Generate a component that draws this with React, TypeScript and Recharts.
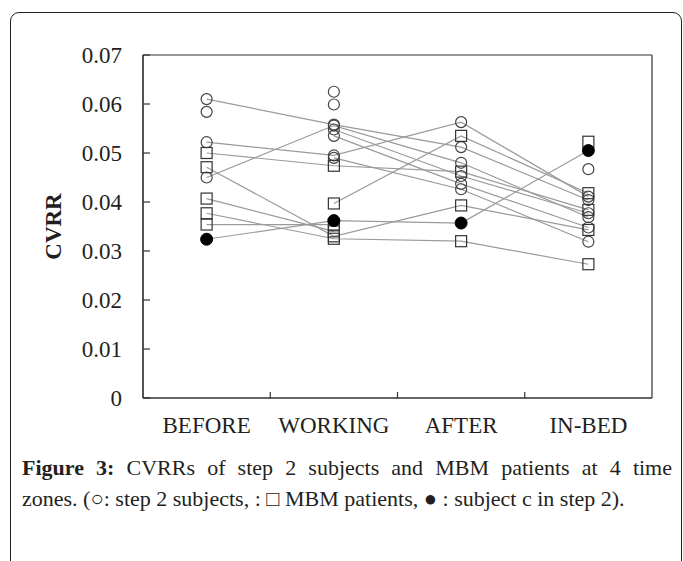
import React from 'react';
import { LineChart, Line, XAxis, YAxis, CartesianGrid } from 'recharts';

// ---- data ----
const zones = ['BEFORE', 'WORKING', 'AFTER', 'IN-BED'];
const yTicks = [0, 0.01, 0.02, 0.03, 0.04, 0.05, 0.06, 0.07];

// step 2 subjects (open circles)
const s1 = [0.061, 0.0558, 0.0512, 0.0404];
const s2 = [0.045, 0.0556, 0.048, 0.0369];
const s3 = [0.0522, 0.0495, 0.0563, 0.0411];
const s4 = [null, 0.0548, 0.0453, 0.0377];
const s5 = [null, 0.0535, 0.0437, 0.0348];
const s6 = [null, 0.049, 0.0426, 0.0319];
const s7 = [0.0584, null, null, null];
const s8 = [null, 0.0625, null, null];
const s9 = [null, 0.0599, null, null];
const s10 = [null, null, null, 0.0467];

// MBM patients (open squares)
const m1 = [0.05, 0.0474, 0.0462, 0.0384];
const m2 = [null, 0.0397, 0.0535, 0.0418];
const m3 = [0.0471, 0.033, 0.0393, 0.0343];
const m4 = [0.0407, 0.034, null, null];
const m5 = [0.0354, 0.0354, null, null];
const m6 = [0.0377, 0.0325, 0.032, 0.0273];
const m7 = [null, null, null, 0.0523];

// subject c in step 2 (filled circle)
const c1 = [0.0324, 0.0362, 0.0357, 0.0505];

type Shape = 'circle' | 'square' | 'filled';
const series: { key: string; values: (number | null)[]; shape: Shape }[] = [
  { key: 's1', values: s1, shape: 'circle' },
  { key: 's2', values: s2, shape: 'circle' },
  { key: 's3', values: s3, shape: 'circle' },
  { key: 's4', values: s4, shape: 'circle' },
  { key: 's5', values: s5, shape: 'circle' },
  { key: 's6', values: s6, shape: 'circle' },
  { key: 's7', values: s7, shape: 'circle' },
  { key: 's8', values: s8, shape: 'circle' },
  { key: 's9', values: s9, shape: 'circle' },
  { key: 's10', values: s10, shape: 'circle' },
  { key: 'm1', values: m1, shape: 'square' },
  { key: 'm2', values: m2, shape: 'square' },
  { key: 'm3', values: m3, shape: 'square' },
  { key: 'm4', values: m4, shape: 'square' },
  { key: 'm5', values: m5, shape: 'square' },
  { key: 'm6', values: m6, shape: 'square' },
  { key: 'm7', values: m7, shape: 'square' },
  { key: 'c1', values: c1, shape: 'filled' },
];

const data = zones.map((zone, i) => {
  const row: Record<string, any> = { zone };
  series.forEach((s) => {
    row[s.key] = s.values[i];
  });
  return row;
});

const FONT = '"Liberation Serif", "Times New Roman", serif';
const INK = '#231f20';

const CHART_W = 683;
const AXIS_W = 143;
const RIGHT_M = 31;
// half of one zone's band: categories sit at the middle of 4 equal bands
const HALF_BAND = (CHART_W - AXIS_W - RIGHT_M) / 8;

const makeDot = (shape: Shape, key: string) => (props: any) => {
  const { cx, cy, value, index } = props;
  const k = `${key}-${index}`;
  if (value == null || cx == null || cy == null || isNaN(cy)) return <g key={k} />;
  if (shape === 'square') {
    return (
      <rect key={k} x={cx - 5.5} y={cy - 5.5} width={11} height={11} fill="none" stroke="#333" strokeWidth={1.2} />
    );
  }
  if (shape === 'filled') {
    return <circle key={k} cx={cx} cy={cy} r={6} fill="#000" stroke="#000" strokeWidth={1} />;
  }
  return <circle key={k} cx={cx} cy={cy} r={5.5} fill="none" stroke="#444" strokeWidth={1.2} />;
};

const YTick = (props: any) => {
  const { x, y, payload } = props;
  const v = payload.value;
  const label = v === 0 ? '0' : Number(v).toFixed(2);
  return (
    <g>
      <line x1={x} x2={x + 7} y1={y} y2={y} stroke="#333" strokeWidth={1.2} />
      <text x={x - 21} y={y + 8} textAnchor="end" fontFamily={FONT} fontSize={23} fill={INK}>
        {label}
      </text>
    </g>
  );
};

const XTick = (props: any) => {
  const { x, y, payload, index } = props;
  return (
    <g>
      {index < zones.length - 1 ? (
        <line x1={x + HALF_BAND} x2={x + HALF_BAND} y1={y} y2={y - 6} stroke="#333" strokeWidth={1.2} />
      ) : null}
      <text x={x} y={y + 35} textAnchor="middle" fontFamily={FONT} fontSize={23} fill={INK}>
        {payload.value}
      </text>
    </g>
  );
};

const YLabel = (props: any) => {
  const vb = props.viewBox || { x: 0, y: 55, width: 143, height: 343 };
  const cx = vb.x + 53;
  const cy = vb.y + vb.height / 2;
  return (
    <text
      x={cx}
      y={cy}
      transform={`rotate(-90 ${cx} ${cy})`}
      textAnchor="middle"
      dominantBaseline="central"
      fontFamily={FONT}
      fontSize={23}
      fontWeight="bold"
      fill={INK}
    >
      CVRR
    </text>
  );
};

export default function App() {
  return (
    <div
      style={{
        position: 'absolute',
        left: 0,
        top: 0,
        width: 683,
        height: 561,
        overflow: 'hidden',
        background: '#fff',
      }}
    >
      <div
        style={{
          position: 'absolute',
          left: 10,
          top: 12,
          width: 670,
          height: 640,
          border: `1px solid ${INK}`,
          borderRadius: 9,
        }}
      />
      <div style={{ position: 'absolute', left: 0, top: 0 }}>
        <LineChart width={CHART_W} height={450} data={data} margin={{ top: 55, right: RIGHT_M, bottom: 12, left: 0 }}>
          <CartesianGrid
            stroke="#333"
            strokeWidth={1.2}
            horizontalCoordinatesGenerator={({ offset }: any) => [offset.top, offset.top + offset.height]}
            verticalCoordinatesGenerator={({ offset }: any) => [offset.left, offset.left + offset.width]}
          />
          <XAxis
            dataKey="zone"
            height={40}
            tickSize={0}
            tickMargin={0}
            tickLine={false}
            padding={{ left: HALF_BAND, right: HALF_BAND }}
            axisLine={{ stroke: '#333', strokeWidth: 1.2 }}
            tick={<XTick />}
            interval={0}
          />
          <YAxis
            width={AXIS_W}
            domain={[0, 0.07]}
            ticks={yTicks}
            type="number"
            tickSize={0}
            tickMargin={0}
            tickLine={false}
            axisLine={{ stroke: '#333', strokeWidth: 1.2 }}
            tick={<YTick />}
            interval={0}
            label={<YLabel />}
            allowDataOverflow
          />
          {series.map((s) => (
            <Line
              key={s.key}
              dataKey={s.key}
              type="linear"
              stroke="#9a9a9a"
              strokeWidth={1.2}
              dot={makeDot(s.shape, s.key)}
              activeDot={false}
              isAnimationActive={false}
              connectNulls={false}
            />
          ))}
        </LineChart>
      </div>
      <div
        style={{
          position: 'absolute',
          left: 22,
          top: 452,
          width: 650,
          fontFamily: FONT,
          fontSize: 22,
          lineHeight: '31px',
          color: INK,
        }}
      >
        <div style={{ textAlign: 'justify', textAlignLast: 'justify', whiteSpace: 'nowrap' as any }}>
          <b>Figure 3:</b> CVRRs of step 2 subjects and MBM patients at 4 time
        </div>
        <div>zones. (○: step 2 subjects, : □ MBM patients, ● : subject c in step 2).</div>
      </div>
    </div>
  );
}
